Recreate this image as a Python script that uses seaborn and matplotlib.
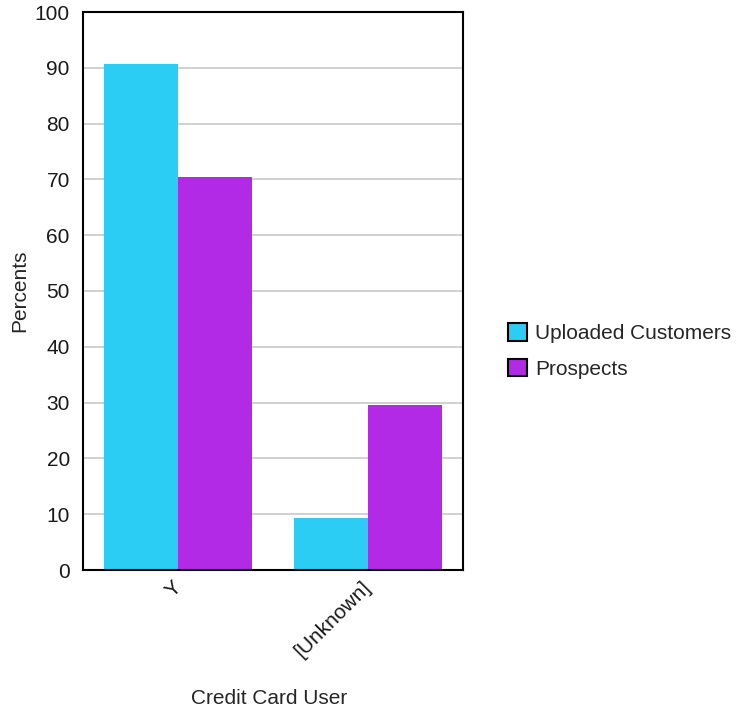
import matplotlib
matplotlib.use("Agg")
import matplotlib.pyplot as plt
import seaborn as sns
import pandas as pd

categories = ["Y", "[Unknown]"]
series_names = ["Uploaded Customers", "Prospects"]
uploaded = [90.7, 9.3]
prospects = [70.4, 29.6]
colors = ["#2ccdf5", "#b22ae6"]
y_ticks = [0, 10, 20, 30, 40, 50, 60, 70, 80, 90, 100]

df = pd.DataFrame({
    "Credit Card User": categories * 2,
    "Series": [series_names[0]] * 2 + [series_names[1]] * 2,
    "Percents": uploaded + prospects,
})

sns.set_style("white")
plt.rcParams["font.family"] = ["Liberation Sans", "DejaVu Sans"]
plt.rcParams["font.size"] = 15

fig = plt.figure(figsize=(7.42, 7.15), dpi=100)
ax = fig.add_axes([83 / 742, 1 - 570 / 715, 380 / 742, 558 / 715])

sns.barplot(data=df, x="Credit Card User", y="Percents", hue="Series",
            hue_order=series_names, order=categories, palette=colors,
            width=0.78, saturation=1, ax=ax, edgecolor="none", linewidth=0)

ax.set_xlim(-0.5, 1.5)
ax.set_ylim(0, 100)
ax.set_yticks(y_ticks)
ax.yaxis.grid(True, color="#c8c8c8", linewidth=1.2)
ax.set_axisbelow(True)
for s in ax.spines.values():
    s.set_visible(True)
    s.set_color("black")
    s.set_linewidth(1.5)

ax.tick_params(axis="both", which="both", direction="out", length=6,
               width=1.2, color="black", labelsize=15, labelcolor="#1a1a1a")
ax.tick_params(axis="x", pad=4)
plt.setp(ax.get_xticklabels(), rotation=45, ha="right", va="center",
         rotation_mode="anchor")

ax.set_ylabel("Percents", fontsize=15, labelpad=4)
ax.set_xlabel("Credit Card User", fontsize=15)
ax.xaxis.set_label_coords(0.49, 1 - (689 - 12) / 558)

handles, labels = ax.get_legend_handles_labels()
ax.get_legend().remove()
for h in handles:
    h.set_edgecolor("black")
    h.set_linewidth(1.5)
fig.legend(handles, labels, loc="center left",
           bbox_to_anchor=(489 / 742, 1 - 351 / 715), frameon=False,
           fontsize=15, handlelength=0.9, handleheight=0.9,
           handletextpad=0.4, labelspacing=0.75)

fig.savefig("out.png", dpi=100)
